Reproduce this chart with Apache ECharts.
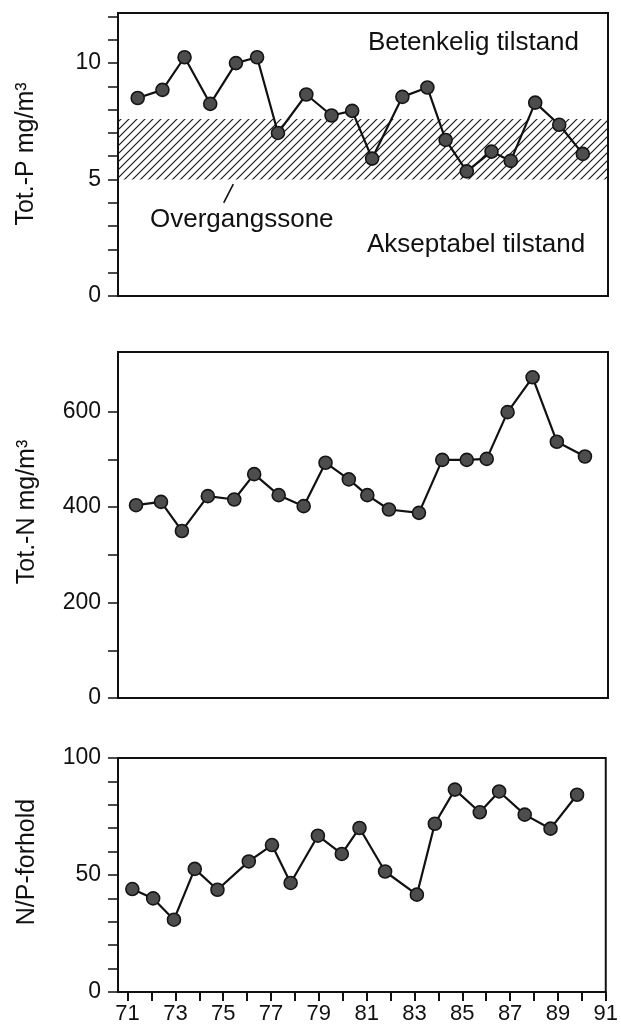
<!DOCTYPE html>
<html>
<head>
<meta charset="utf-8">
<script src="https://cdn.jsdelivr.net/npm/echarts@6/dist/echarts.min.js"></script>
<style>
html,body{margin:0;padding:0;background:#fff;}
#chart{width:621px;height:1027px;}
</style>
</head>
<body>
<div id="chart"></div>
<script>
// ---- data ----
// x positions (year, as drawn) of each point per panel
const yearsP  = [71.42,72.45,73.37,74.44,75.51,76.39,77.26,78.44,79.49,80.35,81.18,82.44,83.48,84.24,85.12,86.15,86.95,87.97,88.97,89.95];
const totP    = [8.5,8.85,10.25,8.25,10.0,10.25,7.0,8.65,7.75,7.95,5.9,8.55,8.95,6.7,5.35,6.2,5.8,8.3,7.35,6.1];
const yearsN  = [71.35,72.39,73.26,74.34,75.44,76.27,77.29,78.33,79.24,80.21,80.98,81.88,83.13,84.10,85.12,85.95,86.82,87.86,88.87,90.04];
const totN    = [404,411,350,423,416,469,425,402,493,458,425,395,388,499,499,501,599,672,537,506];
const yearsNP = [71.20,72.07,72.94,73.81,74.76,76.07,77.04,77.82,78.96,79.96,80.70,81.77,83.10,83.85,84.69,85.73,86.54,87.61,88.69,89.80];
const ratioNP = [44.0,40.0,30.9,52.6,43.7,55.8,62.8,46.6,66.8,59.0,70.1,51.5,41.6,71.9,86.5,76.8,85.7,75.8,69.8,84.3];

const xTickValues  = [71,72,73,74,75,76,77,78,79,80,81,82,83,84,85,86,87,88,89,90,91];
const xLabelValues = [71,73,75,77,79,81,83,85,87,89,91];
const pTicks  = [0,1,2,3,4,5,6,7,8,9,10,11,12];
const pLabels = [0,5,10];
const nTicks  = [0,100,200,300,400,500,600];
const nLabels = [0,200,400,600];
const rTicks  = [0,10,20,30,40,50,60,70,80,90,100];
const rLabels = [0,50,100];
const transitionBand = [5, 7.6];           // Overgangssone (Tot.-P)
const leader = [[75.0, 4.0], [75.4, 4.8]]; // pointer line to "Overgangssone"

const yTitles = ['Tot.-P mg/m³', 'Tot.-N mg/m³', 'N/P-forhold'];
const zoneLabels = ['Betenkelig tilstand', 'Overgangssone', 'Akseptabel tilstand'];

// ---- drawing ----
const FONT = '"Liberation Sans", Arial, Helvetica, sans-serif';
const INK = '#111';

const pc = document.createElement('canvas');
pc.width = 8; pc.height = 8;
const g = pc.getContext('2d');
g.strokeStyle = '#1a1a1a'; g.lineWidth = 1.2;
g.beginPath();
g.moveTo(0, 8); g.lineTo(8, 0);
g.moveTo(-2, 2); g.lineTo(2, -2);
g.moveTo(6, 10); g.lineTo(10, 6);
g.stroke();

const grids = [
  {left: 118, right: 13, top: 13,  height: 283},
  {left: 118, right: 13, top: 352, height: 346},
  {left: 118, right: 13, top: 758, height: 234}
].map(gr => Object.assign({show: true, borderColor: INK, borderWidth: 2, backgroundColor: 'transparent'}, gr));

function xAxis(i, withLabels) {
  return {
    type: 'value', gridIndex: i, min: 70.6, max: 91,
    axisLine: {show: true, lineStyle: {color: INK, width: 2}},
    axisTick: withLabels ? {show: true, length: 9, inside: false, customValues: xTickValues, lineStyle: {color: INK, width: 2}} : {show: false},
    axisLabel: withLabels ? {show: true, customValues: xLabelValues, margin: 11, fontSize: 22, color: INK, fontFamily: FONT} : {show: false},
    splitLine: {show: false}
  };
}
function yAxis(i, max, ticks, labels) {
  return {
    type: 'value', gridIndex: i, min: 0, max: max,
    axisLine: {show: true, lineStyle: {color: INK, width: 2}},
    axisTick: {show: true, length: 10, customValues: ticks, lineStyle: {color: INK, width: 1.5}},
    axisLabel: {show: true, customValues: labels, margin: 17, fontSize: 23, color: INK, fontFamily: FONT},
    splitLine: {show: false}
  };
}
function pairs(xs, ys) { return xs.map((x, k) => [x, ys[k]]); }
function lineSeries(i, data, extra) {
  return Object.assign({
    type: 'line', xAxisIndex: i, yAxisIndex: i, data: data,
    symbol: 'circle', symbolSize: 13, showSymbol: true,
    lineStyle: {color: INK, width: 2.2},
    itemStyle: {color: '#4d4d4d', borderColor: '#151515', borderWidth: 1.6},
    z: 5, animation: false
  }, extra || {});
}

const option = {
  animation: false,
  backgroundColor: '#fff',
  grid: grids,
  xAxis: [xAxis(0, false), xAxis(1, false), xAxis(2, true)],
  yAxis: [yAxis(0, 12.15, pTicks, pLabels), yAxis(1, 725, nTicks, nLabels), yAxis(2, 100, rTicks, rLabels)],
  series: [
    lineSeries(0, pairs(yearsP, totP), {
      markArea: {
        silent: true,
        itemStyle: {color: {image: pc, repeat: 'repeat'}, borderWidth: 0},
        data: [[{yAxis: transitionBand[0]}, {yAxis: transitionBand[1]}]]
      },
      markLine: {
        silent: true, symbol: ['none', 'none'], label: {show: false},
        lineStyle: {color: INK, width: 1.6, type: 'solid'},
        data: [[{coord: leader[0]}, {coord: leader[1]}]]
      }
    }),
    lineSeries(1, pairs(yearsN, totN)),
    lineSeries(2, pairs(yearsNP, ratioNP))
  ],
  graphic: [
    {type: 'text', x: 368, y: 43, style: {text: zoneLabels[0], font: '26px ' + FONT, fill: INK, textVerticalAlign: 'middle'}},
    {type: 'text', x: 150, y: 220, style: {text: zoneLabels[1], font: '26px ' + FONT, fill: INK, textVerticalAlign: 'middle'}},
    {type: 'text', x: 367, y: 245, style: {text: zoneLabels[2], font: '26px ' + FONT, fill: INK, textVerticalAlign: 'middle'}},
    {type: 'text', x: 26, y: 154, rotation: Math.PI / 2, style: {text: yTitles[0], font: '25px ' + FONT, fill: INK, textAlign: 'center', textVerticalAlign: 'middle'}},
    {type: 'text', x: 27, y: 512, rotation: Math.PI / 2, style: {text: yTitles[1], font: '25px ' + FONT, fill: INK, textAlign: 'center', textVerticalAlign: 'middle'}},
    {type: 'text', x: 27, y: 862, rotation: Math.PI / 2, style: {text: yTitles[2], font: '25px ' + FONT, fill: INK, textAlign: 'center', textVerticalAlign: 'middle'}}
  ]
};

const chart = echarts.init(document.getElementById('chart'), null, {renderer: 'canvas', width: 621, height: 1027});
chart.setOption(option);
</script>
</body>
</html>
